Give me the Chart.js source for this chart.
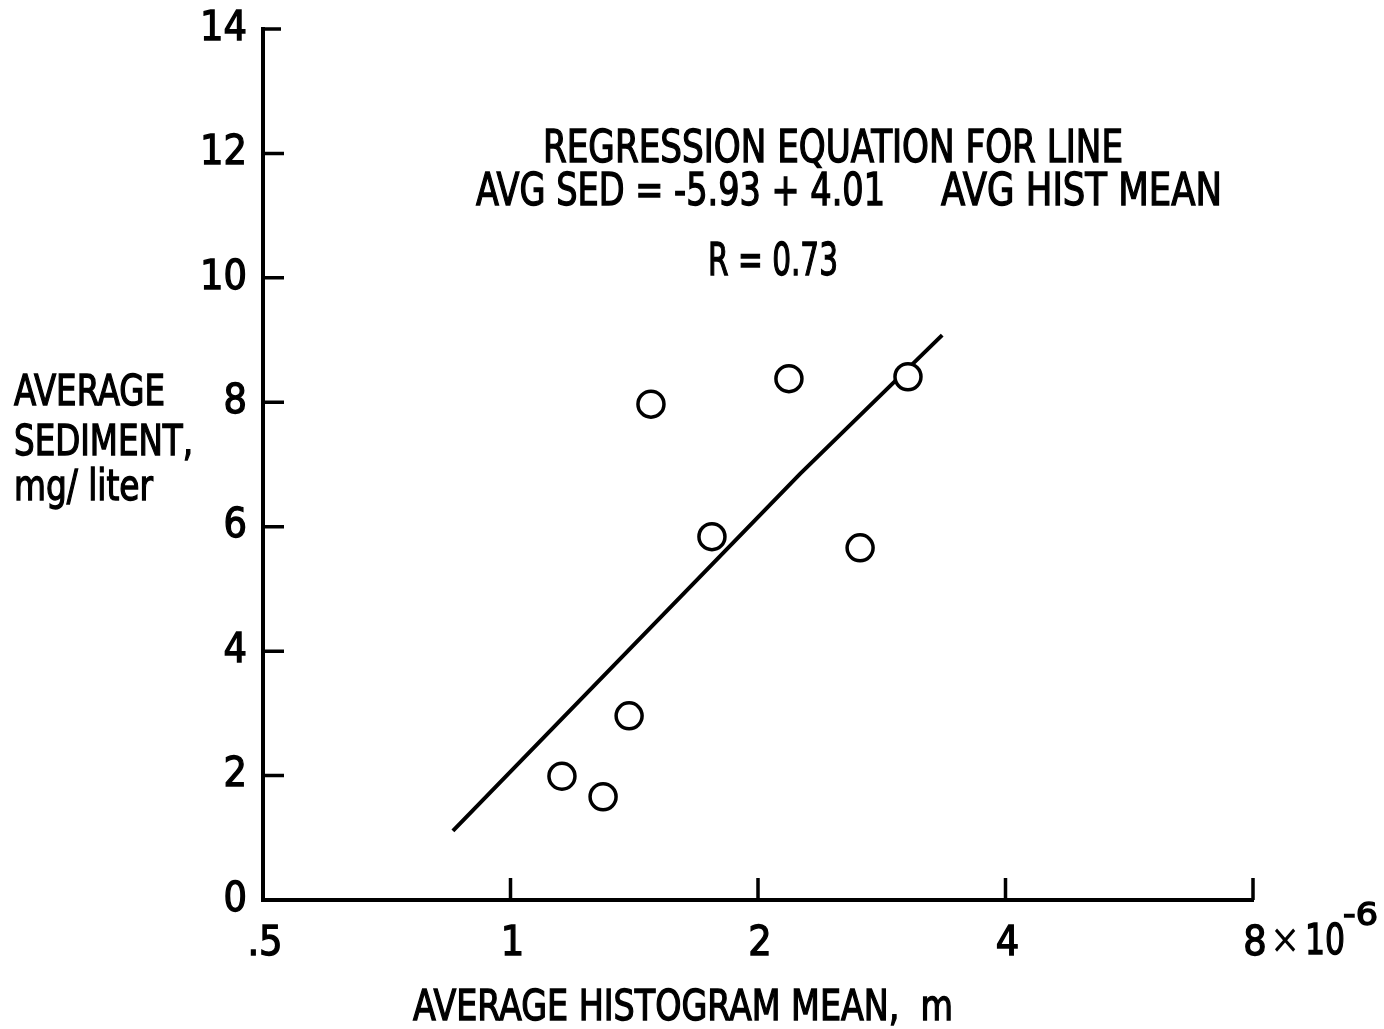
<!DOCTYPE html>
<html>
<head>
<meta charset="utf-8">
<script src="https://cdn.jsdelivr.net/npm/chart.js@4.4.1/dist/chart.umd.min.js"></script>
<style>
  html, body { margin: 0; padding: 0; background: #fff; }
  #wrap { width: 1384px; height: 1029px; position: relative; }
</style>
</head>
<body>
<div id="wrap"><canvas id="chart"></canvas></div>
<script>
// values (x in units of 1e-6 m, log axis)
const histMean = [1.155, 1.296, 1.394, 1.482, 1.758, 2.181, 2.662, 3.044];
const avgSediment = [1.99, 1.66, 2.96, 7.97, 5.84, 8.38, 5.66, 8.41];

// hand drawn regression line
const lineX = [0.851, 2.25, 3.35];
const lineY = [1.11, 6.85, 9.08];

const xTicks = [0.5, 1, 2, 4, 8];
const xTickLabels = ['.5', '1', '2', '4', '8'];
const yTicks = [0, 2, 4, 6, 8, 10, 12, 14];

const FONT = "'DejaVu Sans Condensed', 'Liberation Sans Narrow', sans-serif";
const INK = 1.3; // scanned print is a bit heavier than the font

// ticks point into the plot on this figure
const innerTicks = {
  id: 'innerTicks',
  afterDatasetsDraw(chart) {
    const { ctx, scales: { x, y }, chartArea } = chart;
    ctx.save();
    ctx.strokeStyle = '#000';
    ctx.lineWidth = 3.5;
    ctx.beginPath();
    yTicks.slice(1).forEach(v => {
      const py = y.getPixelForValue(v);
      ctx.moveTo(chartArea.left, py);
      ctx.lineTo(chartArea.left + (v === 14 ? 18 : 21), py);
    });
    xTicks.slice(1).forEach(v => {
      const px = x.getPixelForValue(v);
      ctx.moveTo(px, chartArea.bottom);
      ctx.lineTo(px, chartArea.bottom - 22);
    });
    ctx.stroke();
    ctx.restore();
  }
};

// draw text squeezed to the width it has on the scan
function fitText(ctx, text, left, base, width, size) {
  ctx.font = size + 'px ' + FONT;
  const w = ctx.measureText(text).width;
  ctx.save();
  ctx.translate(left, base);
  ctx.scale(width / w, 1);
  ctx.fillText(text, 0, 0);
  ctx.strokeText(text, 0, 0);
  ctx.restore();
}

const labels = {
  id: 'labels',
  afterDraw(chart) {
    const ctx = chart.ctx;
    ctx.save();
    ctx.fillStyle = '#000';
    ctx.strokeStyle = '#000';
    ctx.lineWidth = INK;
    ctx.textAlign = 'left';
    ctx.textBaseline = 'alphabetic';

    // multiplier on the last x tick
    ctx.font = '40px ' + FONT;
    ctx.textAlign = 'center';
    ctx.fillText('\u00d7', 1285, 953);
    ctx.textAlign = 'left';
    fitText(ctx, '10', 1305, 954, 40, 42);
    fitText(ctx, '-6', 1343, 925, 35, 32);

    fitText(ctx, 'AVERAGE HISTOGRAM MEAN,  m', 413, 1020, 540, 42);

    fitText(ctx, 'AVERAGE', 14, 405, 151, 42);
    fitText(ctx, 'SEDIMENT,', 14, 455, 179, 42);
    fitText(ctx, 'mg/ liter', 14, 500, 139, 42);

    fitText(ctx, 'REGRESSION EQUATION FOR LINE', 543, 162, 580, 44);
    fitText(ctx, 'AVG SED = -5.93 + 4.01', 476, 205, 409, 44);
    fitText(ctx, 'AVG HIST MEAN', 941, 205, 281, 44);
    fitText(ctx, 'R = 0.73', 708, 275, 130, 44);
    ctx.restore();
  }
};

const tickFont = { family: FONT, size: 41 };

new Chart(document.getElementById('chart').getContext('2d'), {
  type: 'scatter',
  data: {
    datasets: [{
      label: 'observations',
      data: histMean.map((v, i) => ({ x: v, y: avgSediment[i] })),
      pointRadius: 13,
      pointBorderWidth: 3.5,
      borderColor: '#000',
      backgroundColor: '#fff',
      pointStyle: 'circle'
    }, {
      type: 'line',
      label: 'regression',
      data: lineX.map((v, i) => ({ x: v, y: lineY[i] })),
      borderColor: '#000',
      borderWidth: 4,
      pointRadius: 0,
      fill: false,
      tension: 0
    }]
  },
  options: {
    responsive: true,
    maintainAspectRatio: false,
    animation: false,
    layout: { padding: { top: 29, right: 131, left: 0, bottom: 0 } },
    plugins: {
      legend: { display: false },
      tooltip: { enabled: false }
    },
    scales: {
      x: {
        type: 'logarithmic',
        min: 0.5,
        max: 8,
        afterBuildTicks: (s) => { s.ticks = xTicks.map(v => ({ value: v })); },
        afterFit: (s) => { s.height = 129; s.paddingLeft = 0; s.paddingRight = 0; },
        grid: { drawOnChartArea: false, drawTicks: false },
        border: { display: true, color: '#000', width: 4 },
        ticks: {
          color: '#000',
          padding: 20,
          maxRotation: 0,
          autoSkip: false,
          labelOffset: 2,
          font: tickFont,
          textStrokeColor: '#000',
          textStrokeWidth: INK,
          callback: (v) => {
            const i = xTicks.indexOf(v);
            return i >= 0 ? xTickLabels[i] : '';
          }
        }
      },
      y: {
        min: 0,
        max: 14,
        afterBuildTicks: (s) => { s.ticks = yTicks.map(v => ({ value: v })); },
        afterFit: (s) => { s.width = 263; s.paddingTop = 0; s.paddingBottom = 0; },
        grid: { drawOnChartArea: false, drawTicks: false },
        border: { display: true, color: '#000', width: 4 },
        ticks: {
          color: '#000',
          padding: 16,
          font: tickFont,
          textStrokeColor: '#000',
          textStrokeWidth: INK
        }
      }
    }
  },
  plugins: [innerTicks, labels]
});
</script>
</body>
</html>
